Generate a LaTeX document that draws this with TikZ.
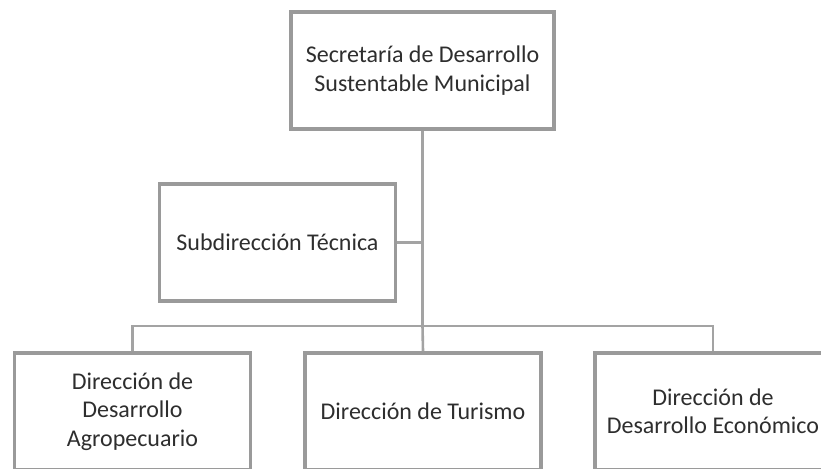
\documentclass[tikz,border=0pt]{standalone}
\usepackage{fontspec}
\setmainfont{Carlito}
\usepackage{tikz}

\definecolor{boxgray}{HTML}{9A9A9A}
\definecolor{linegray}{HTML}{A3A3A3}
\definecolor{textgray}{HTML}{2E2E2E}

\begin{document}
\begin{tikzpicture}[
    x = 1pt, y = -1pt,
    %
    unit/.style = {draw = boxgray,
      line width = 3.6pt,
      fill = white,
      text = textgray,
      align = center,
      inner sep = 0pt,
      font = \fontsize{24}{28.5}\selectfont,
      minimum width = {236pt},
      minimum height = {117pt}},
    %
    head/.style = {minimum width = {263pt}},
    connector/.style = {draw = linegray, line width = 2.6pt},
    ]

    \useasboundingbox (0, 0) rectangle (821, 468);
    \clip (0, 0) rectangle (821, 468);

    \node at (422.5, 70.5)
    [unit, head, name = sec] {Secretaría de Desarrollo\\Sustentable Municipal};

    \node at (277.5, 242.5)
    [unit, name = subdir] {Subdirección Técnica};

    \node at (132.5, 411.5)
    [unit, name = agro] {Dirección de\\Desarrollo\\Agropecuario};
    \node at (423, 411.5)
    [unit, name = tur] {Dirección de Turismo};
    \node at (713, 411.5)
    [unit, name = econ] {Dirección de\\Desarrollo Económico};

    \coordinate (bus) at (422.5, 326);

    \draw [connector] (sec.south) -- (bus);
    \draw [connector] (subdir.east) -- (subdir.east -| sec.south);
    \draw [connector] (agro.north) |- (bus) -| (econ.north);
    \draw [connector] (bus) -- (tur.north);

  \end{tikzpicture}
\end{document}
